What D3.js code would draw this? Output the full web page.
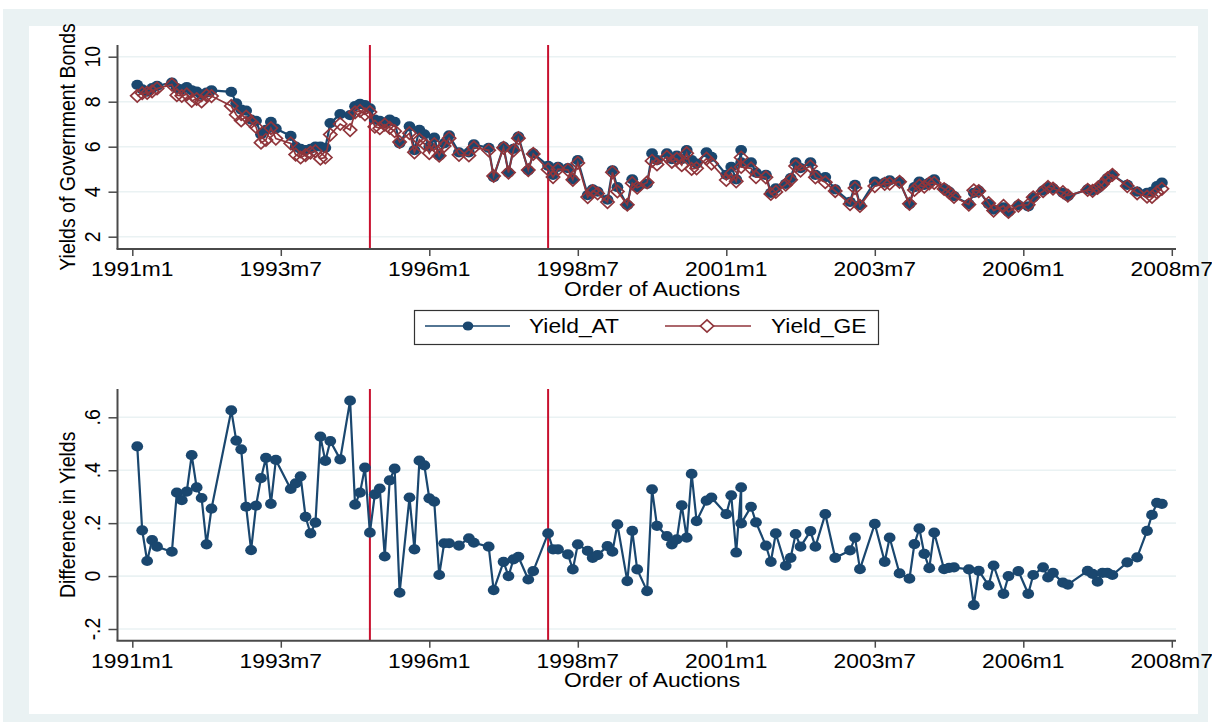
<!DOCTYPE html>
<html><head><meta charset="utf-8">
<script src="https://cdn.jsdelivr.net/npm/d3@7/dist/d3.min.js"></script>
<style>
body{margin:0;background:#fff}
text{font-family:"Liberation Sans",Arial,Helvetica,sans-serif;fill:#000}
</style>
</head><body>
<svg id="chart" width="1212" height="722"></svg>
<script>
// ---------------- data ----------------
const dates = [
"1991m2","1991m3","1991m4","1991m5","1991m6","1991m9","1991m10","1991m11","1991m12","1992m1",
"1992m2","1992m3","1992m4","1992m5","1992m9","1992m10","1992m11","1992m12","1993m1","1993m2",
"1993m3","1993m4","1993m5","1993m6","1993m9","1993m10","1993m11","1993m12","1994m1","1994m2",
"1994m3","1994m4","1994m5","1994m7","1994m9","1994m10","1994m11","1994m12","1995m1","1995m2",
"1995m3","1995m4","1995m5","1995m6","1995m7","1995m9","1995m10","1995m11","1995m12","1996m1",
"1996m2","1996m3","1996m4","1996m5","1996m7","1996m9","1996m10","1997m1","1997m2","1997m4",
"1997m5","1997m6","1997m7","1997m9","1997m10","1998m1","1998m2","1998m3","1998m5","1998m6",
"1998m7","1998m9","1998m10","1998m11","1999m1","1999m2","1999m3","1999m5","1999m6","1999m7",
"1999m9","1999m10","1999m11","2000m1","2000m2","2000m3","2000m4","2000m5","2000m6","2000m7",
"2000m9","2000m10","2001m1","2001m2","2001m3","2001m4","2001m4","2001m6","2001m7","2001m9",
"2001m10","2001m11","2002m1","2002m2","2002m3","2002m4","2002m6","2002m7","2002m9","2002m11",
"2003m2","2003m3","2003m4","2003m7","2003m9","2003m10","2003m12","2004m2","2004m3","2004m4",
"2004m5","2004m6","2004m7","2004m9","2004m10","2004m11","2005m2","2005m3","2005m4","2005m6",
"2005m7","2005m9","2005m10","2005m12","2006m2","2006m3","2006m5","2006m6","2006m7","2006m9",
"2006m10","2007m2","2007m3","2007m4","2007m5","2007m6","2007m7","2007m10","2007m12","2008m2",
"2008m3","2008m4","2008m5"];

const yieldAT = [
8.75,8.55,8.45,8.60,8.70,8.85,8.60,8.55,8.65,8.50,
8.45,8.30,8.40,8.50,8.44,7.93,7.65,7.60,7.20,7.15,
6.55,6.75,7.10,6.80,6.48,6.00,5.90,5.85,5.90,6.00,
6.00,5.95,7.05,7.45,7.40,7.80,7.90,7.85,7.70,7.20,
7.15,7.05,7.20,7.10,6.15,6.90,5.85,6.75,6.55,6.00,
6.40,5.60,6.15,6.50,5.75,5.75,6.10,5.95,4.65,6.00,
4.85,5.90,6.45,4.95,5.70,5.15,4.75,5.10,5.05,4.55,
5.40,3.85,4.10,4.00,3.65,4.95,4.20,3.40,4.55,4.20,
4.35,5.70,5.40,5.70,5.45,5.60,5.45,5.85,5.40,5.25,
5.75,5.55,4.75,5.10,4.55,5.85,5.30,5.30,4.85,4.75,
3.95,4.15,4.35,4.60,5.30,5.05,5.30,4.75,4.65,4.10,
3.55,4.30,3.40,4.45,4.40,4.50,4.45,3.45,4.20,4.45,
4.30,4.40,4.55,4.15,4.00,3.80,3.45,3.95,4.05,3.45,
3.20,3.30,3.10,3.40,3.35,3.75,4.05,4.20,4.15,3.95,
3.80,4.10,4.05,4.15,4.35,4.60,4.75,4.30,4.00,3.95,
4.00,4.25,4.40];

const yieldGE = [
8.26,8.38,8.39,8.46,8.59,8.76,8.29,8.26,8.33,8.04,
8.12,8.01,8.28,8.25,7.81,7.42,7.17,7.34,7.10,6.88,
6.18,6.30,6.83,6.36,6.15,5.65,5.52,5.63,5.74,5.80,
5.47,5.52,6.54,7.01,6.74,7.53,7.59,7.44,7.54,6.89,
6.82,6.98,6.84,6.69,6.21,6.60,5.75,6.31,6.13,5.71,
6.12,5.60,6.03,6.38,5.64,5.61,5.97,5.84,4.70,5.95,
4.85,5.84,6.38,4.96,5.68,4.99,4.65,5.00,4.97,4.53,
5.28,3.76,4.03,3.92,3.54,4.86,4.01,3.42,4.38,4.18,
4.41,5.37,5.21,5.55,5.33,5.46,5.18,5.71,5.01,5.04,
5.47,5.25,4.52,4.80,4.46,5.52,5.10,5.04,4.65,4.64,
3.90,3.99,4.31,4.53,5.14,4.94,5.13,4.64,4.42,4.03,
3.45,4.16,3.37,4.25,4.35,4.36,4.44,3.46,4.08,4.27,
4.22,4.37,4.39,4.12,3.97,3.77,3.43,4.06,4.03,3.49,
3.16,3.37,3.10,3.38,3.42,3.75,4.02,4.21,4.14,3.98,
3.83,4.08,4.04,4.17,4.34,4.59,4.75,4.25,3.93,3.78,
3.77,3.97,4.13];

const diffYield = [
0.490,0.173,0.057,0.136,0.111,0.092,0.315,0.287,0.319,0.457,
0.335,0.295,0.120,0.255,0.626,0.512,0.479,0.262,0.098,0.266,
0.370,0.447,0.273,0.439,0.329,0.350,0.377,0.224,0.161,0.202,
0.527,0.435,0.510,0.441,0.663,0.270,0.315,0.410,0.164,0.309,
0.331,0.074,0.362,0.406,-0.063,0.297,0.101,0.436,0.418,0.294,
0.281,0.004,0.124,0.124,0.115,0.143,0.126,0.111,-0.053,0.054,
0.000,0.063,0.073,-0.013,0.019,0.161,0.101,0.101,0.082,0.025,
0.120,0.095,0.069,0.079,0.113,0.092,0.195,-0.019,0.171,0.025,
-0.057,0.328,0.190,0.151,0.120,0.139,0.267,0.145,0.386,0.208,
0.285,0.297,0.234,0.305,0.089,0.335,0.199,0.262,0.203,0.115,
0.054,0.161,0.039,0.069,0.159,0.111,0.170,0.111,0.234,0.069,
0.097,0.145,0.026,0.197,0.054,0.145,0.010,-0.010,0.121,0.180,
0.084,0.030,0.164,0.026,0.031,0.033,0.025,-0.110,0.020,-0.035,
0.040,-0.067,0.000,0.019,-0.067,0.004,0.033,-0.005,0.012,-0.025,
-0.032,0.020,0.008,-0.021,0.012,0.012,0.004,0.052,0.071,0.171,
0.231,0.277,0.273];

const xTickLabels = ["1991m1","1993m7","1996m1","1998m7","2001m1","2003m7","2006m1","2008m7"];
const topYTicks = [2,4,6,8,10];
const topYTickLabels = ["2","4","6","8","10"];
const bottomYTicks = [-0.2,0,0.2,0.4,0.6];
const bottomYTickLabels = ["-.2","0",".2",".4",".6"];
const breakDates = ["1995m1","1998m1"];
const seriesNames = ["Yield_AT","Yield_GE"];
const topYTitle = "Yields of Government Bonds";
const bottomYTitle = "Difference in Yields";
const xTitle = "Order of Auctions";

// ---------------- style ----------------
const NAVY = "#1a476f", MAROON = "#90353b", RED = "#c8102e";
const GRID = "#eaf2f3", AXIS = "#4a4a4a", BG = "#eaf2f3";
const FS = 19.5, SX = 1.17;

const svg = d3.select("#chart");
function toIndex(s){ const p = s.split("m").map(Number); return (p[0]-1991)*12 + (p[1]-1); }

const idx = dates.map(toIndex);
const x = d3.scaleLinear().domain([0,210]).range([132.3,1171.8]);
const X0 = 117.5, X1 = 1176;

svg.append("rect").attr("x",3).attr("y",9).attr("width",1205).attr("height",713).attr("fill",BG);
svg.append("rect").attr("x",29).attr("y",26).attr("width",1169).attr("height",688).attr("fill","#fff");

function stretchedText(g, tx, ty, str, anchor, rotate){
  return g.append("text")
    .attr("transform", `translate(${tx},${ty}) scale(${SX},1)` + (rotate ? " rotate(-90)" : ""))
    .attr("text-anchor", anchor).attr("font-size", FS).text(str);
}

function panel(cfg){
  const g = svg.append("g");
  const y = d3.scaleLinear().domain(cfg.domain).range(cfg.range);
  g.selectAll(".grid").data(cfg.ticks).enter().append("line")
    .attr("x1", X0+1).attr("x2", X1).attr("y1", d=>y(d)).attr("y2", d=>y(d))
    .attr("stroke", GRID).attr("stroke-width", 1.6);
  g.selectAll(".brk").data(breakDates).enter().append("line")
    .attr("x1", d=>x(toIndex(d))).attr("x2", d=>x(toIndex(d)))
    .attr("y1", cfg.top).attr("y2", cfg.bottom)
    .attr("stroke", RED).attr("stroke-width", 2);
  const ya = g.append("g").attr("transform", `translate(${X0},0)`)
    .call(d3.axisLeft(y).tickValues(cfg.ticks).tickSize(9).tickSizeOuter(0).tickFormat(""));
  ya.select(".domain").remove();
  ya.selectAll("line").attr("stroke", AXIS).attr("stroke-width", 1.5);
  g.append("line").attr("x1",X0).attr("x2",X0).attr("y1",cfg.top).attr("y2",cfg.bottom)
    .attr("stroke",AXIS).attr("stroke-width",2);
  cfg.ticks.forEach((t,i)=> stretchedText(g, 99.5, y(t), cfg.tickLabels[i], "middle", true));
  stretchedText(g, 75, (cfg.top+cfg.bottom)/2, cfg.title, "middle", true);
  const xa = g.append("g").attr("transform", `translate(0,${cfg.bottom})`)
    .call(d3.axisBottom(x).tickValues(xTickLabels.map(toIndex)).tickSize(7).tickSizeOuter(0).tickFormat(""));
  xa.select(".domain").remove();
  xa.selectAll("line").attr("stroke", AXIS).attr("stroke-width", 1.5);
  g.append("line").attr("x1",X0-1).attr("x2",X1).attr("y1",cfg.bottom).attr("y2",cfg.bottom)
    .attr("stroke",AXIS).attr("stroke-width",2);
  xTickLabels.forEach(l=> stretchedText(g, x(toIndex(l)), cfg.bottom+27, l, "middle", false));
  stretchedText(g, (x(0)+x(210))/2, cfg.bottom+46.5, xTitle, "middle", false);
  return {g, y};
}

function drawCircles(g, xs, ys){
  g.selectAll(null).data(xs).enter().append("ellipse")
    .attr("cx",(d)=>d).attr("cy",(d,i)=>ys[i]).attr("rx",5.9).attr("ry",5.1)
    .attr("fill",NAVY);
}
function diamondPath(cx,cy){ const w=6.6,h=6.2; return `M${cx},${cy-h}L${cx+w},${cy}L${cx},${cy+h}L${cx-w},${cy}Z`; }

// top panel
const topP = panel({domain:[2,10], range:[236.7,56.7], ticks:topYTicks, tickLabels:topYTickLabels,
  top:45, bottom:249, title:topYTitle});
const lineTop = d3.line().x(d=>x(d[0])).y(d=>topP.y(d[1]));
const atPts = idx.map((m,i)=>[m,yieldAT[i]]);
const gePts = idx.map((m,i)=>[m,yieldGE[i]]);
topP.g.append("path").attr("d", lineTop(atPts)).attr("fill","none").attr("stroke",NAVY).attr("stroke-width",2.2);
drawCircles(topP.g, atPts.map(d=>x(d[0])), atPts.map(d=>topP.y(d[1])));
topP.g.append("path").attr("d", lineTop(gePts)).attr("fill","none").attr("stroke",MAROON).attr("stroke-width",1.7);
topP.g.selectAll(".dm").data(gePts).enter().append("path")
  .attr("d", d=>diamondPath(x(d[0]), topP.y(d[1])))
  .attr("fill","none").attr("stroke",MAROON).attr("stroke-width",1.7);

// legend
const lg = svg.append("g");
lg.append("rect").attr("x",414.5).attr("y",310.5).attr("width",464).attr("height",34)
  .attr("fill","#fff").attr("stroke","#333").attr("stroke-width",1.2);
lg.append("line").attr("x1",425).attr("x2",510).attr("y1",326).attr("y2",326).attr("stroke",NAVY).attr("stroke-width",1.6);
lg.append("ellipse").attr("cx",468).attr("cy",326).attr("rx",5.3).attr("ry",4.6).attr("fill",NAVY);
stretchedText(lg, 529, 333, seriesNames[0], "start", false);
lg.append("line").attr("x1",665).attr("x2",751).attr("y1",326).attr("y2",326).attr("stroke",MAROON).attr("stroke-width",1.6);
lg.append("path").attr("d",diamondPath(707,326)).attr("fill","#fff").attr("stroke",MAROON).attr("stroke-width",1.7);
stretchedText(lg, 771, 333, seriesNames[1], "start", false);

// bottom panel
const botP = panel({domain:[-0.2,0.6], range:[629,417.3], ticks:bottomYTicks, tickLabels:bottomYTickLabels,
  top:389, bottom:640.7, title:bottomYTitle});
const dPts = idx.map((m,i)=>[m,diffYield[i]]);
const lineBot = d3.line().x(d=>x(d[0])).y(d=>botP.y(d[1]));
botP.g.append("path").attr("d", lineBot(dPts)).attr("fill","none").attr("stroke",NAVY).attr("stroke-width",2.2);
drawCircles(botP.g, dPts.map(d=>x(d[0])), dPts.map(d=>botP.y(d[1])));
</script>
</body></html>
